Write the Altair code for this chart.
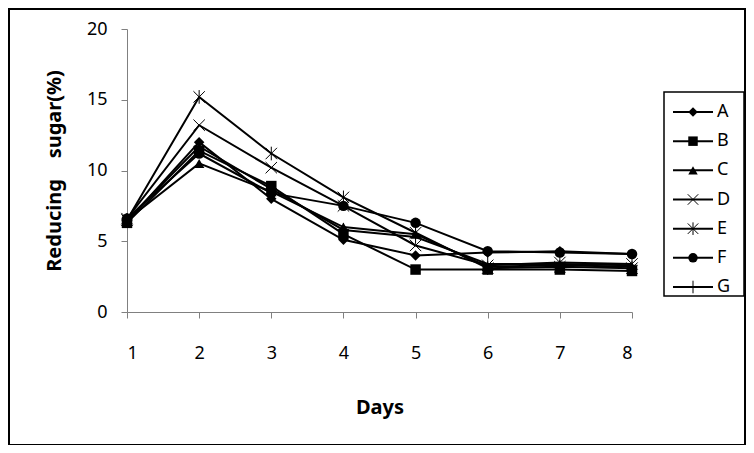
import altair as alt
import pandas as pd

days = [1, 2, 3, 4, 5, 6, 7, 8]
series = ["A", "B", "C", "D", "E", "F", "G"]
A = [6.4, 12.0, 8.0, 5.1, 4.0, 4.2, 4.3, 4.1]
B = [6.3, 11.4, 8.9, 5.5, 3.0, 3.0, 3.0, 2.9]
C = [6.5, 10.5, 8.5, 6.0, 5.5, 3.2, 3.3, 3.2]
D = [6.6, 13.2, 10.2, 7.5, 4.7, 3.3, 3.5, 3.4]
E = [6.5, 15.2, 11.2, 8.1, 5.6, 3.1, 3.2, 3.1]
F = [6.6, 11.2, 8.4, 7.5, 6.3, 4.3, 4.2, 4.1]
G = [6.5, 11.7, 8.7, 5.8, 5.3, 3.4, 3.4, 3.3]
y_ticks = [0, 5, 10, 15, 20]

values = {"A": A, "B": B, "C": C, "D": D, "E": E, "F": F, "G": G}
rows = []
for s in series:
    for d, v in zip(days, values[s]):
        rows.append({"series": s, "day": d, "value": v})
df = pd.DataFrame(rows)
leg = pd.DataFrame({"series": series})
one = pd.DataFrame({"a": [0]})

X_PATH = "M-1,-1L1,1M-1,1L1,-1"
AST_PATH = "M-1,-1L1,1M-1,1L1,-1M0,-1.2L0,1.2"
PLUS_PATH = "M0,-1.2L0,1.2M-1,0L1,0"
shape_scale = alt.Scale(domain=series, range=["diamond", "square", "triangle-up", X_PATH, AST_PATH, "circle", PLUS_PATH])
filled_set = ["A", "B", "C", "F"]
open_set = ["D", "E", "G"]
FONT = "Noto Sans"

x_enc = alt.X("day:Q", scale=alt.Scale(domain=[1, 8], nice=False, zero=False),
              axis=alt.Axis(values=days, title="Days", grid=False, domainColor="#808080",
                            tickColor="#808080", tickSize=6, labelPadding=26, labelFontSize=18,
                            labelFont=FONT, labelColor="black", titleFont=FONT, titleFontSize=20,
                            titleFontWeight="bold", titlePadding=35, titleColor="black", format="d"))
y_enc = alt.Y("value:Q", scale=alt.Scale(domain=[0, 20], nice=False),
              axis=alt.Axis(values=y_ticks, title="Reducing\u00a0\u00a0\u00a0\u00a0sugar(%)", grid=False,
                            domainColor="#808080", tickColor="#808080", tickSize=6, labelPadding=14,
                            labelFontSize=18, labelFont=FONT, labelColor="black", titleFont=FONT,
                            titleFontSize=20, titleFontWeight="bold", titlePadding=22, titleColor="black"))

frame = alt.Chart(one).mark_rect(fillOpacity=0, stroke="black", strokeWidth=2).encode(
    x=alt.value(-118), x2=alt.value(618), y=alt.value(-20), y2=alt.value(416))

lines = alt.Chart(df).mark_line(color="black", strokeWidth=2).encode(
    x=x_enc, y=y_enc, detail="series:N", order="day:Q")

pts_f = alt.Chart(df).transform_filter(
    alt.FieldOneOfPredicate(field="series", oneOf=filled_set)
).mark_point(filled=True, color="black", size=110, opacity=1).encode(
    x="day:Q", y="value:Q", shape=alt.Shape("series:N", scale=shape_scale, legend=None))

pts_o = alt.Chart(df).transform_filter(
    alt.FieldOneOfPredicate(field="series", oneOf=open_set)
).mark_point(filled=False, color="black", size=130, strokeWidth=1, opacity=1).encode(
    x="day:Q", y="value:Q", shape=alt.Shape("series:N", scale=shape_scale, legend=None))

leg_y = alt.Y("series:N", scale=alt.Scale(type="point", domain=series, range=[83, 258], padding=0), axis=None)

leg_box = alt.Chart(one).mark_rect(fillOpacity=0, stroke="black", strokeWidth=1.5).encode(
    x=alt.value(537), x2=alt.value(617), y=alt.value(63), y2=alt.value(267))

leg_line = alt.Chart(leg).mark_rule(color="black", strokeWidth=2).encode(
    x=alt.value(546), x2=alt.value(586), y=leg_y)

leg_pf = alt.Chart(leg).transform_filter(
    alt.FieldOneOfPredicate(field="series", oneOf=filled_set)
).mark_point(filled=True, color="black", size=90, opacity=1).encode(
    x=alt.value(566), y=leg_y, shape=alt.Shape("series:N", scale=shape_scale, legend=None))

leg_po = alt.Chart(leg).transform_filter(
    alt.FieldOneOfPredicate(field="series", oneOf=open_set)
).mark_point(filled=False, color="black", size=110, strokeWidth=1, opacity=1).encode(
    x=alt.value(566), y=leg_y, shape=alt.Shape("series:N", scale=shape_scale, legend=None))

leg_txt = alt.Chart(leg).mark_text(align="left", baseline="middle", fontSize=18, font=FONT, color="black").encode(
    x=alt.value(590), y=leg_y, text="series:N")

main = alt.layer(lines, pts_f, pts_o)
legend = alt.layer(leg_box, leg_line, leg_pf, leg_po, leg_txt)

chart = alt.layer(frame, main, legend).resolve_scale(y="independent").properties(
    width=505, height=283,
    autosize=alt.AutoSizeParams(type="none"),
    padding={"left": 119, "top": 21, "right": 114, "bottom": 133},
).configure_view(strokeWidth=0)

chart.save("out.html", embed_options={"renderer": "svg", "actions": False})
